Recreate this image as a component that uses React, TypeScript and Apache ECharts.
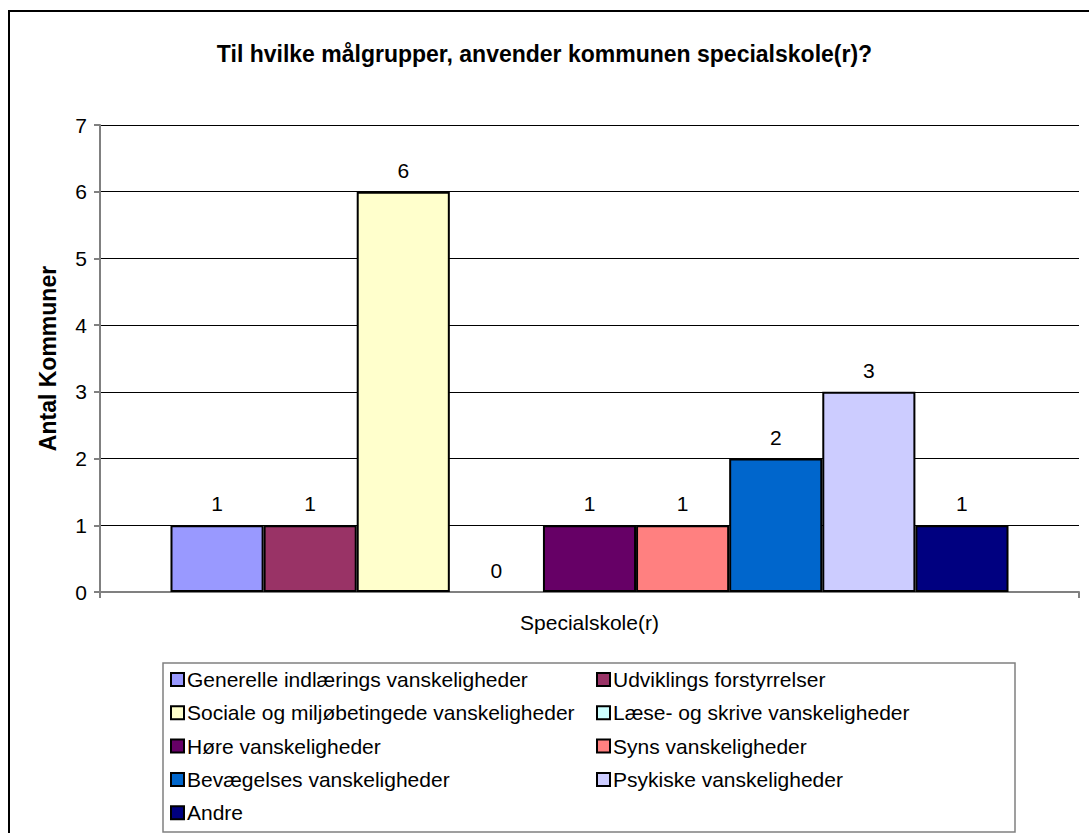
import React, { useEffect, useRef } from "react";
import * as echarts from "echarts";

const categories = ["Specialskole(r)"];
const seriesNames = [
  "Generelle indlærings vanskeligheder",
  "Udviklings forstyrrelser",
  "Sociale og miljøbetingede vanskeligheder",
  "Læse- og skrive vanskeligheder",
  "Høre vanskeligheder",
  "Syns vanskeligheder",
  "Bevægelses vanskeligheder",
  "Psykiske vanskeligheder",
  "Andre",
];
const seriesValues = [1, 1, 6, 0, 1, 1, 2, 3, 1];
const seriesColors = [
  "#9999FF",
  "#993366",
  "#FFFFCC",
  "#CCFFFF",
  "#660066",
  "#FF8080",
  "#0066CC",
  "#CCCCFF",
  "#000080",
];
const yTicks = { min: 0, max: 7, interval: 1 };

const FONT = "'Liberation Sans', Arial, sans-serif";

export default function App() {
  const ref = useRef<HTMLDivElement>(null);
  useEffect(() => {
    document.body.style.margin = "0";
    const chart = echarts.init(ref.current!, undefined, { renderer: "svg" });
    const colX = [170, 596];
    const rowTop = 669;
    const rowStep = 33.3;
    const legends = seriesNames.map((name, i) => ({
      data: [name],
      left: colX[i % 2],
      top: rowTop + Math.floor(i / 2) * rowStep,
      orient: "horizontal",
      icon: "rect",
      itemWidth: 13,
      itemHeight: 13,
      itemGap: 0,
      padding: 0,
      itemStyle: { borderColor: "#000", borderWidth: 2 },
      textStyle: { fontFamily: FONT, fontSize: 21, color: "#000", padding: [0, 0, 0, -2], lineHeight: 21 },
      selectedMode: false,
    }));
    chart.setOption({
      animation: false,
      backgroundColor: "#fff",
      textStyle: { fontFamily: FONT },
      title: {
        text: "Til hvilke målgrupper, anvender kommunen specialskole(r)?",
        left: "center",
        top: 37,
        textStyle: { fontFamily: FONT, fontSize: 23, fontWeight: "bold", color: "#000" },
      },
      graphic: [
        {
          type: "rect",
          shape: { x: 9, y: 11, width: 1200, height: 1000 },
          style: { fill: "none", stroke: "#000", lineWidth: 2 },
          silent: true,
        },
        {
          type: "rect",
          shape: { x: 163, y: 663, width: 852, height: 169 },
          style: { fill: "#fff", stroke: "#808080", lineWidth: 1.5 },
          silent: true,
          z: -1,
        },
      ],
      legend: legends,
      grid: { left: 100, right: 10, top: 125, bottom: 241, containLabel: false },
      xAxis: {
        type: "category",
        data: categories,
        axisLine: { lineStyle: { color: "#808080", width: 2 } },
        axisTick: { show: true, length: 6, lineStyle: { color: "#808080", width: 2 } },
        axisLabel: { fontFamily: FONT, fontSize: 21, color: "#000", margin: 20 },
      },
      yAxis: {
        type: "value",
        min: yTicks.min,
        max: yTicks.max,
        interval: yTicks.interval,
        name: "Antal Kommuner",
        nameLocation: "middle",
        nameGap: 41,
        nameTextStyle: { fontFamily: FONT, fontSize: 23, fontWeight: "bold", color: "#000" },
        axisLine: { show: true, lineStyle: { color: "#808080", width: 2 } },
        axisTick: { show: true, length: 6, lineStyle: { color: "#808080", width: 2 } },
        axisLabel: { fontFamily: FONT, fontSize: 21, color: "#000", margin: 13 },
        splitLine: { show: true, lineStyle: { color: "#000", width: 1 } },
      },
      series: seriesNames.map((name, i) => ({
        name,
        type: "bar",
        data: [seriesValues[i]],
        barGap: "0%",
        barCategoryGap: "14.4%",
        itemStyle: {
          color: seriesColors[i],
          borderColor: "#000",
          borderWidth: seriesValues[i] === 0 ? 0 : 2,
        },
        label: {
          show: true,
          position: "top",
          distance: 11,
          fontFamily: FONT,
          fontSize: 21,
          color: "#000",
        },
      })),
    });
    return () => chart.dispose();
  }, []);
  return <div ref={ref} style={{ width: 1089, height: 833 }} />;
}
